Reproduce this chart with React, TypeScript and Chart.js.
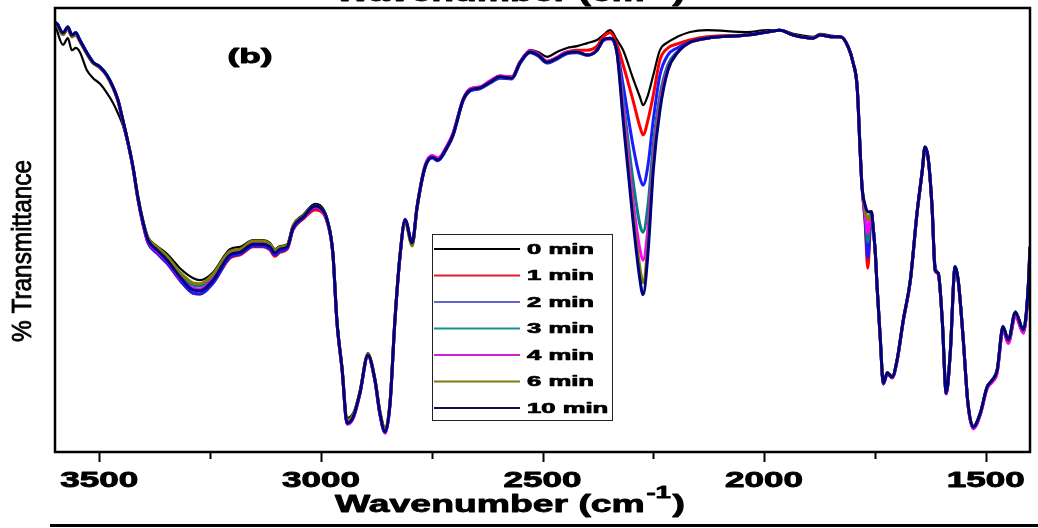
import React, { useEffect, useRef } from "react";
import { Chart, registerables } from "chart.js";

Chart.register(...registerables);

// Wavenumber grid (cm-1), descending
const wavenumbers = [
  3600, 3595, 3582, 3571, 3562, 3553, 3544, 3528, 3514, 3498,
  3483, 3469, 3458, 3447, 3435, 3424, 3413, 3401, 3390, 3370,
  3347, 3318, 3289, 3273, 3243, 3205, 3182, 3153, 3131, 3115,
  3104, 3092, 3076, 3063, 3040, 3013, 3002, 2986, 2973, 2964,
  2952, 2941, 2927, 2912, 2894, 2878, 2867, 2855, 2844, 2833,
  2821, 2810, 2794, 2783, 2765, 2749, 2736, 2715, 2702, 2679,
  2663, 2641, 2618, 2596, 2569, 2551, 2528, 2510, 2490, 2467,
  2445, 2422, 2399, 2377, 2363, 2347, 2332, 2318, 2296, 2280,
  2273, 2262, 2250, 2235, 2217, 2196, 2167, 2129, 2038, 1993,
  1964, 1934, 1889, 1874, 1844, 1828, 1810, 1799, 1790, 1783,
  1779, 1772, 1766, 1758, 1754, 1749, 1745, 1738, 1731, 1722,
  1711, 1700, 1686, 1670, 1655, 1643, 1637, 1630, 1621, 1614,
  1607, 1598, 1589, 1580, 1569, 1562, 1551, 1540, 1528, 1512,
  1497, 1485, 1474, 1461, 1449, 1433, 1415, 1404, 1400,
];

// % Transmittance per series
const t0min = [
  96.8, 94.8, 91.7, 93.2, 90.5, 91.0, 90.1, 86.0, 84.2, 82.9,
  80.9, 78.6, 76.3, 73.6, 69.1, 64.2, 57.6, 52.0, 48.4, 46.4,
  44.6, 41.4, 39.2, 38.7, 40.5, 45.7, 46.2, 47.7, 47.7, 47.1,
  45.7, 46.4, 46.8, 51.1, 53.4, 55.9, 55.6, 52.7, 45.0, 30.0,
  19.0, 7.7, 8.8, 13.7, 22.3, 16.5, 9.5, 5.4, 11.5, 30.0,
  45.0, 52.5, 46.6, 55.4, 64.4, 66.8, 66.2, 69.1, 71.8, 79.5,
  81.8, 82.2, 83.6, 84.7, 84.5, 87.8, 90.5, 90.1, 89.0, 90.1,
  91.0, 91.4, 92.1, 92.8, 93.9, 95.0, 92.8, 90.5, 84.2, 79.9,
  78.1, 80.4, 84.9, 90.5, 92.3, 93.5, 94.6, 95.0, 94.6, 95.0,
  95.0, 94.2, 93.5, 94.2, 93.7, 93.5, 91.0, 87.4, 82.0, 67.3,
  59.7, 52.0, 42.8, 53.6, 50.5, 44.6, 37.2, 26.1, 16.0, 18.0,
  17.1, 20.9, 29.9, 38.7, 53.4, 62.8, 67.3, 65.6, 55.0, 42.5,
  39.6, 29.7, 13.7, 22.5, 41.9, 38.9, 26.1, 11.2, 5.9, 9.0,
  14.8, 16.4, 18.7, 28.4, 25.4, 31.7, 27.7, 37.4, 46.4,
];
const t1min = [
  96.6, 96.0, 94.0, 95.3, 93.5, 94.0, 92.5, 89.7, 87.6, 86.5,
  84.7, 82.0, 79.1, 74.6, 69.4, 64.0, 57.0, 51.1, 47.1, 44.8,
  42.5, 38.7, 35.8, 35.6, 38.1, 43.7, 44.4, 46.2, 46.2, 45.5,
  44.1, 45.0, 45.7, 50.0, 52.5, 54.5, 54.3, 51.8, 44.6, 29.5,
  18.3, 6.5, 7.9, 13.3, 21.6, 16.0, 8.6, 4.5, 11.0, 29.5,
  44.6, 52.0, 46.8, 55.0, 64.2, 66.4, 65.8, 68.9, 71.6, 79.5,
  81.8, 82.2, 83.6, 84.7, 84.5, 87.8, 90.3, 89.7, 88.0, 88.9,
  90.1, 90.5, 90.5, 91.4, 93.5, 94.4, 91.7, 87.2, 79.3, 73.2,
  71.4, 74.8, 80.4, 88.3, 91.0, 91.9, 92.8, 93.5, 94.0, 94.6,
  95.0, 93.9, 93.2, 93.9, 93.5, 93.5, 91.2, 87.6, 82.2, 67.3,
  59.7, 51.5, 41.4, 53.6, 50.5, 44.6, 37.0, 25.7, 15.3, 17.6,
  16.7, 20.5, 29.5, 38.5, 53.6, 63.3, 68.5, 66.2, 55.0, 40.8,
  40.1, 29.5, 13.1, 22.1, 41.5, 38.5, 25.7, 10.8, 5.4, 8.6,
  14.4, 15.8, 18.0, 27.5, 24.5, 30.6, 26.8, 36.8, 45.9,
];
const t2min = [
  96.8, 96.4, 94.4, 95.7, 93.9, 94.4, 92.8, 89.9, 87.8, 86.7,
  84.9, 82.2, 79.3, 74.6, 69.4, 64.0, 57.0, 51.1, 47.1, 44.8,
  42.5, 38.7, 35.8, 35.6, 38.1, 43.9, 44.6, 46.4, 46.4, 45.7,
  44.4, 45.2, 45.9, 50.2, 52.7, 55.0, 54.8, 52.0, 44.6, 29.5,
  18.3, 6.3, 7.7, 13.1, 21.6, 16.0, 8.6, 4.3, 10.8, 29.5,
  44.6, 52.0, 46.8, 55.0, 64.0, 66.2, 65.6, 68.5, 71.2, 79.1,
  81.3, 81.8, 83.1, 84.2, 84.0, 87.4, 89.9, 89.2, 87.6, 88.5,
  89.7, 89.9, 89.4, 90.5, 92.8, 93.2, 90.5, 82.6, 69.1, 61.7,
  60.1, 64.6, 74.8, 84.9, 89.4, 91.0, 92.3, 93.2, 93.9, 94.6,
  95.0, 93.9, 93.2, 93.9, 93.5, 93.5, 91.2, 87.6, 82.2, 67.3,
  59.7, 52.5, 43.7, 53.8, 50.7, 44.8, 37.2, 25.9, 15.3, 17.6,
  16.7, 20.5, 29.5, 38.7, 53.8, 63.5, 68.7, 66.4, 55.2, 41.0,
  40.3, 29.7, 13.1, 22.3, 41.7, 38.7, 25.9, 10.8, 5.4, 8.6,
  14.4, 16.0, 18.3, 27.9, 24.8, 31.1, 27.0, 37.0, 46.0,
];
const t3min = [
  96.8, 96.4, 94.4, 95.7, 93.9, 94.4, 92.8, 89.9, 87.8, 86.7,
  84.9, 82.2, 79.3, 74.8, 69.6, 64.2, 57.4, 51.8, 48.0, 45.9,
  43.7, 40.1, 37.6, 37.4, 39.6, 45.0, 45.5, 47.3, 47.3, 46.6,
  45.2, 46.0, 46.4, 50.7, 53.1, 55.4, 55.0, 52.3, 44.8, 29.7,
  18.5, 6.8, 8.1, 13.5, 22.0, 16.4, 9.0, 4.8, 11.2, 29.7,
  44.8, 52.3, 46.8, 55.2, 64.2, 66.4, 65.8, 68.7, 71.4, 79.3,
  81.5, 82.0, 83.3, 84.5, 84.2, 87.6, 90.1, 89.4, 87.8, 88.7,
  89.9, 90.1, 89.4, 90.5, 92.8, 93.2, 90.1, 79.3, 61.3, 51.1,
  49.5, 55.6, 69.1, 80.4, 87.2, 90.1, 92.3, 93.2, 93.9, 94.6,
  95.0, 93.9, 93.2, 93.9, 93.5, 93.5, 91.2, 87.6, 82.2, 67.3,
  59.7, 53.5, 47.3, 54.1, 50.7, 44.8, 37.2, 25.9, 15.5, 17.8,
  16.9, 20.7, 29.7, 38.7, 53.8, 63.5, 68.7, 66.4, 55.2, 41.0,
  40.3, 29.7, 13.3, 22.3, 41.7, 38.7, 25.9, 11.0, 5.6, 8.8,
  14.6, 16.2, 18.5, 28.2, 25.2, 31.5, 27.5, 37.2, 46.2,
];
const t4min = [
  96.6, 96.2, 94.2, 95.5, 93.7, 94.2, 92.6, 89.7, 87.6, 86.5,
  84.7, 82.0, 79.1, 74.6, 69.4, 64.0, 57.2, 51.4, 47.5, 45.2,
  43.0, 39.2, 36.9, 36.7, 39.0, 44.6, 45.2, 47.0, 47.0, 46.2,
  44.8, 45.7, 46.2, 50.5, 52.9, 55.2, 54.8, 52.0, 44.6, 29.5,
  18.3, 6.3, 7.7, 13.1, 21.6, 16.0, 8.6, 4.3, 10.8, 29.5,
  44.6, 52.3, 47.1, 55.4, 64.6, 66.8, 66.2, 69.1, 71.8, 79.5,
  81.8, 82.2, 83.6, 84.7, 84.5, 87.8, 90.3, 89.7, 88.0, 88.9,
  90.1, 90.1, 89.4, 90.5, 92.6, 93.0, 90.1, 77.7, 56.8, 45.5,
  43.2, 50.5, 66.2, 78.8, 86.5, 89.9, 92.3, 93.2, 93.9, 94.6,
  95.0, 93.9, 93.2, 93.9, 93.5, 93.5, 91.2, 87.6, 82.2, 67.3,
  59.7, 54.0, 49.3, 54.1, 50.7, 44.8, 37.2, 25.7, 15.3, 17.6,
  16.7, 20.5, 29.5, 38.5, 53.6, 63.3, 68.5, 66.2, 55.0, 40.8,
  40.1, 29.5, 13.1, 22.1, 41.5, 38.5, 25.7, 10.8, 5.2, 8.4,
  14.2, 15.8, 17.8, 27.5, 24.5, 30.8, 26.8, 36.6, 45.7,
];
const t6min = [
  96.8, 96.0, 94.0, 95.3, 93.5, 94.0, 92.5, 89.7, 87.6, 86.5,
  84.7, 82.0, 79.3, 74.8, 69.6, 64.2, 57.4, 51.8, 48.2, 46.2,
  44.1, 40.5, 38.1, 37.9, 40.1, 45.2, 45.7, 47.5, 47.5, 46.8,
  45.5, 46.2, 46.6, 50.9, 53.1, 55.4, 55.0, 52.3, 44.8, 29.9,
  18.7, 7.2, 8.4, 13.5, 22.0, 16.4, 9.2, 5.2, 11.4, 29.9,
  45.0, 51.8, 46.4, 55.2, 64.2, 66.4, 65.8, 68.7, 71.4, 79.3,
  81.5, 82.0, 83.3, 84.5, 84.2, 87.6, 90.1, 89.4, 87.8, 88.7,
  89.9, 90.1, 89.4, 90.5, 92.8, 93.2, 89.9, 75.9, 54.1, 41.4,
  38.1, 47.1, 64.6, 77.7, 86.0, 89.9, 92.3, 93.2, 93.9, 94.6,
  95.0, 93.9, 93.2, 93.9, 93.5, 93.5, 91.2, 87.6, 82.2, 67.3,
  59.7, 54.8, 52.3, 54.1, 50.7, 44.8, 37.2, 25.9, 15.5, 17.8,
  16.9, 20.7, 29.7, 38.7, 53.8, 63.5, 68.7, 66.4, 55.2, 41.0,
  40.3, 29.7, 13.5, 22.3, 41.7, 38.7, 25.9, 11.0, 5.6, 8.8,
  14.6, 16.2, 18.5, 28.2, 25.2, 31.5, 27.5, 37.2, 46.2,
];
const t10min = [
  96.8, 96.4, 94.4, 95.7, 93.9, 94.4, 92.8, 89.9, 87.8, 86.7,
  84.9, 82.2, 79.3, 74.8, 69.6, 64.2, 57.4, 51.6, 47.7, 45.5,
  43.2, 39.4, 36.5, 36.3, 38.7, 44.4, 45.0, 46.8, 46.8, 46.2,
  44.8, 45.7, 46.2, 50.5, 52.9, 55.4, 55.0, 52.3, 44.8, 29.7,
  18.5, 6.5, 7.9, 13.3, 21.8, 16.2, 8.8, 4.5, 11.0, 29.7,
  44.8, 52.3, 47.1, 55.2, 64.2, 66.4, 65.8, 68.7, 71.4, 79.3,
  81.5, 82.0, 83.3, 84.5, 84.2, 87.6, 90.1, 89.4, 87.8, 88.7,
  89.9, 90.1, 89.4, 90.5, 92.8, 93.2, 89.9, 74.8, 52.3, 38.7,
  35.4, 44.8, 63.5, 77.0, 86.0, 89.9, 92.3, 93.2, 93.9, 94.6,
  95.0, 93.9, 93.2, 93.9, 93.5, 93.5, 91.2, 87.6, 82.2, 67.3,
  59.7, 55.6, 54.1, 54.1, 50.7, 44.8, 37.2, 25.9, 15.5, 17.8,
  16.9, 20.7, 29.7, 38.7, 53.8, 63.5, 68.7, 66.4, 55.2, 41.0,
  40.3, 29.7, 13.3, 22.3, 41.7, 38.7, 25.9, 11.0, 5.6, 8.8,
  14.6, 16.2, 18.5, 28.2, 25.2, 31.5, 27.5, 37.2, 46.2,
];

const seriesLabels = ["0 min", "1 min", "2 min", "3 min", "4 min", "6 min", "10 min"];
const seriesValues = [t0min, t1min, t2min, t3min, t4min, t6min, t10min];
const seriesColors = ["#000000", "#ff0000", "#1a1aff", "#008080", "#ff00ff", "#808000", "#000080"];
const legendColors = ["#000000", "#e02020", "#6464c8", "#1a9090", "#d020d0", "#7a7a10", "#10104a"];

const xMajorTicks = [3500, 3000, 2500, 2000, 1500];
const xTickLabels = ["3500", "3000", "2500", "2000", "1500"];
const xMinorTicks = [3250, 2750, 2250, 1750];
const xTitle = ["Wavenumber (cm", "-1", ")"];
const yTitle = "% Transmittance";
const panelLabel = "(b)";

function stretchText(
  ctx: CanvasRenderingContext2D,
  text: string,
  x: number,
  y: number,
  sx: number,
  align: CanvasTextAlign,
  heavy: number
) {
  ctx.save();
  ctx.translate(x, y);
  ctx.scale(sx, 1);
  ctx.textAlign = align;
  ctx.fillText(text, 0, 0);
  if (heavy > 0) {
    ctx.lineWidth = heavy;
    ctx.strokeStyle = ctx.fillStyle as string;
    ctx.lineJoin = "round";
    ctx.strokeText(text, 0, 0);
  }
  ctx.restore();
}

function drawAxisTitle(ctx: CanvasRenderingContext2D, cx: number, baseline: number) {
  const mainFont = 'bold 23px "Liberation Sans", Arial, sans-serif';
  const supFont = 'bold 17px "Liberation Sans", Arial, sans-serif';
  ctx.font = mainFont;
  const w1 = ctx.measureText(xTitle[0]).width;
  const w3 = ctx.measureText(xTitle[2]).width;
  ctx.font = supFont;
  const w2 = ctx.measureText(xTitle[1]).width;
  const target = 350;
  const sx = target / (w1 + w2 + w3 + 2);
  ctx.save();
  ctx.translate(cx - target / 2, baseline);
  ctx.scale(sx, 1);
  ctx.textAlign = "left";
  ctx.textBaseline = "alphabetic";
  ctx.fillStyle = "#000";
  ctx.strokeStyle = "#000";
  ctx.lineWidth = 0.8;
  ctx.lineJoin = "round";
  ctx.font = mainFont;
  ctx.fillText(xTitle[0], 0, 0);
  ctx.strokeText(xTitle[0], 0, 0);
  ctx.font = supFont;
  ctx.fillText(xTitle[1], w1 + 1, -14);
  ctx.strokeText(xTitle[1], w1 + 1, -14);
  ctx.font = mainFont;
  ctx.fillText(xTitle[2], w1 + w2 + 2, 0);
  ctx.strokeText(xTitle[2], w1 + w2 + 2, 0);
  ctx.restore();
}

const decorPlugin = {
  id: "decor",
  afterDatasetsDraw(chart: any) {
    const { ctx, chartArea: a, scales } = chart;
    const x = scales.x;
    ctx.save();
    ctx.fillStyle = "#000";
    ctx.strokeStyle = "#000";

    // frame
    ctx.lineWidth = 2.5;
    ctx.strokeRect(a.left, a.top, a.right - a.left, a.bottom - a.top);

    // ticks
    ctx.lineWidth = 2;
    ctx.beginPath();
    xMajorTicks.forEach((v) => {
      const px = Math.round(x.getPixelForValue(v)) + 0.5;
      ctx.moveTo(px, a.bottom);
      ctx.lineTo(px, a.bottom + 10);
    });
    xMinorTicks.forEach((v) => {
      const px = Math.round(x.getPixelForValue(v)) + 0.5;
      ctx.moveTo(px, a.bottom);
      ctx.lineTo(px, a.bottom + 7);
    });
    ctx.stroke();

    // tick labels
    ctx.font = 'bold 22px "Liberation Sans", Arial, sans-serif';
    ctx.textBaseline = "alphabetic";
    const sxTick = 78 / ctx.measureText("2500").width;
    xMajorTicks.forEach((v, i) => {
      ctx.fillStyle = "#000";
      stretchText(ctx, xTickLabels[i], x.getPixelForValue(v), 487, sxTick, "center", 0.9);
    });

    // x titles (bottom, and clipped one at the top)
    drawAxisTitle(ctx, 510, 512);
    drawAxisTitle(ctx, 510, 1);

    // y title
    ctx.save();
    ctx.translate(22, 251);
    ctx.rotate(-Math.PI / 2);
    ctx.font = '28px "Liberation Sans", Arial, sans-serif';
    ctx.textBaseline = "middle";
    const sxY = 182 / ctx.measureText(yTitle).width;
    ctx.scale(sxY, 1);
    ctx.textAlign = "center";
    ctx.fillStyle = "#000";
    ctx.fillText(yTitle, 0, 1);
    ctx.lineWidth = 0.8;
    ctx.strokeStyle = "#000";
    ctx.strokeText(yTitle, 0, 1);
    ctx.restore();

    // panel label
    ctx.font = 'bold 21px "Liberation Sans", Arial, sans-serif';
    ctx.textBaseline = "middle";
    ctx.fillStyle = "#000";
    const sxB = 45 / ctx.measureText(panelLabel).width;
    stretchText(ctx, panelLabel, 250, 57, sxB, "center", 0.9);

    // legend
    const lx = 432, ly = 234, lw = 180, lh = 186;
    ctx.fillStyle = "#fff";
    ctx.fillRect(lx, ly, lw, lh);
    ctx.strokeStyle = "#222";
    ctx.lineWidth = 1;
    ctx.strokeRect(lx + 0.5, ly + 0.5, lw, lh);
    ctx.font = 'bold 14px "Liberation Sans", Arial, sans-serif';
    ctx.textBaseline = "middle";
    const sxL = 67 / ctx.measureText("0 min").width;
    seriesLabels.forEach((lab, i) => {
      const yy = 249 + i * 26.5;
      ctx.strokeStyle = legendColors[i];
      ctx.lineWidth = 2;
      ctx.beginPath();
      ctx.moveTo(434, yy);
      ctx.lineTo(520, yy);
      ctx.stroke();
      ctx.fillStyle = "#000";
      stretchText(ctx, lab, 527, yy + 1, sxL, "left", 0.7);
    });

    // bottom rule
    ctx.fillStyle = "#000";
    ctx.fillRect(50, 524, 988, 3);
    ctx.restore();
  },
};

export default function App() {
  const canvasRef = useRef<HTMLCanvasElement | null>(null);

  useEffect(() => {
    if (!canvasRef.current) return;
    const datasets = seriesValues.map((vals, i) => ({
      label: seriesLabels[i],
      data: wavenumbers.map((w, j) => ({ x: w, y: vals[j] })),
      borderColor: seriesColors[i],
      backgroundColor: seriesColors[i],
      borderWidth: i === 0 ? 2.2 : 3,
      pointRadius: 0,
      cubicInterpolationMode: "monotone" as const,
      fill: false,
      order: seriesValues.length - i,
    }));
    const chart = new Chart(canvasRef.current, {
      type: "line",
      data: { datasets },
      options: {
        animation: false,
        responsive: false,
        devicePixelRatio: 1,
        parsing: false as any,
        layout: { padding: { left: 55, right: 8, top: 8, bottom: 76 } },
        plugins: { legend: { display: false }, tooltip: { enabled: false }, title: { display: false } },
        scales: {
          x: { type: "linear", min: 1400, max: 3600, reverse: true, display: false },
          y: { type: "linear", min: 0, max: 100, display: false },
        },
      },
      plugins: [decorPlugin],
    });
    return () => chart.destroy();
  }, []);

  return (
    <div style={{ position: "fixed", left: 0, top: 0, width: 1038, height: 528, background: "#fff" }}>
      <canvas ref={canvasRef} width={1038} height={528} style={{ display: "block" }} />
    </div>
  );
}
